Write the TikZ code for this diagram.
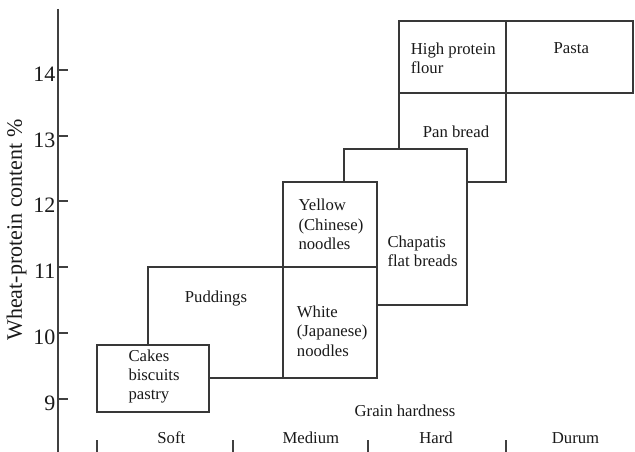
\documentclass[tikz,border=0pt]{standalone}
\usepackage{fontspec}
\setmainfont{Liberation Serif}
\begin{document}
\begin{tikzpicture}[x=1pt,y=-1pt,
  ln/.style={draw=black!78,line width=2pt,line cap=rect},
  axl/.style={draw=black!75,line width=2pt},
  boxtxt/.style={inner sep=0pt,align=left,anchor=north west,text=black!90,font=\fontsize{16.7}{19.3}\selectfont},
  onetxt/.style={inner sep=0pt,anchor=base,text=black!90,font=\fontsize{16.7}{19.3}\selectfont},
  ticktxt/.style={inner sep=0pt,anchor=base east,text=black!90,font=\fontsize{22}{26}\selectfont}]
\useasboundingbox (0,0) rectangle (635,452);
% y axis
\coordinate (atop) at (58,9);
\coordinate (abot) at (58,452);
\draw[axl] (atop) -- (abot);
\foreach \v/\y in {14/70,13/136,12/201,11/267,10/333,9/399}{
  \draw[axl] (58,\y) -- (68,\y);
  \node[ticktxt] (t\v) at (55.5,\y+11.5) {\v};
}
\node[rotate=90,inner sep=0pt,text=black!90,font=\fontsize{22}{26}\selectfont] (ylab) at (16.5,230) {Wheat-protein content \%};
% x ticks
\foreach \x in {97,233,368,506}{
  \draw[axl] (\x,440) -- (\x,452);
}
% Cakes box
\draw[ln] (97,345) rectangle (209,412);
% Puddings outline
\draw[ln] (148,345) -- (148,267) -- (377,267);
\draw[ln] (209,378) -- (283,378);
% Yellow / White column
\draw[ln] (283,182) rectangle (377,378);
% Chapatis
\draw[ln] (344,182) -- (344,149) -- (467,149) -- (467,305) -- (377,305);
% Pan bread
\draw[ln] (399,93) -- (399,149);
\draw[ln] (506,93) -- (506,182) -- (467,182);
% High protein flour and Pasta
\draw[ln] (399,21) rectangle (506,93);
\draw[ln] (506,21) rectangle (633,93);
% texts
\node[boxtxt] (cakes) at (128.3,349.5) {Cakes\\biscuits\\pastry};
\node[boxtxt] (yellow) at (298.3,199) {Yellow\\(Chinese)\\noodles};
\node[boxtxt] (white) at (296.7,305.8) {White\\(Japanese)\\noodles};
\node[boxtxt] (chap) at (387.3,235.5) {Chapatis\\flat breads};
\node[boxtxt] (hpf) at (410.7,42.5) {High protein\\flour};
\node[onetxt] (pasta) at (571.3,53.3) {Pasta};
\node[onetxt] (pan) at (456,137.3) {Pan bread};
\node[onetxt] (pud) at (216,302.3) {Puddings};
\node[onetxt] (grain) at (405,416) {Grain hardness};
\node[onetxt] (soft) at (171.3,443.3) {Soft};
\node[onetxt] (medium) at (310.8,443.3) {Medium};
\node[onetxt] (hard) at (436,443.3) {Hard};
\node[onetxt] (durum) at (575.5,443.3) {Durum};
\end{tikzpicture}
\end{document}
